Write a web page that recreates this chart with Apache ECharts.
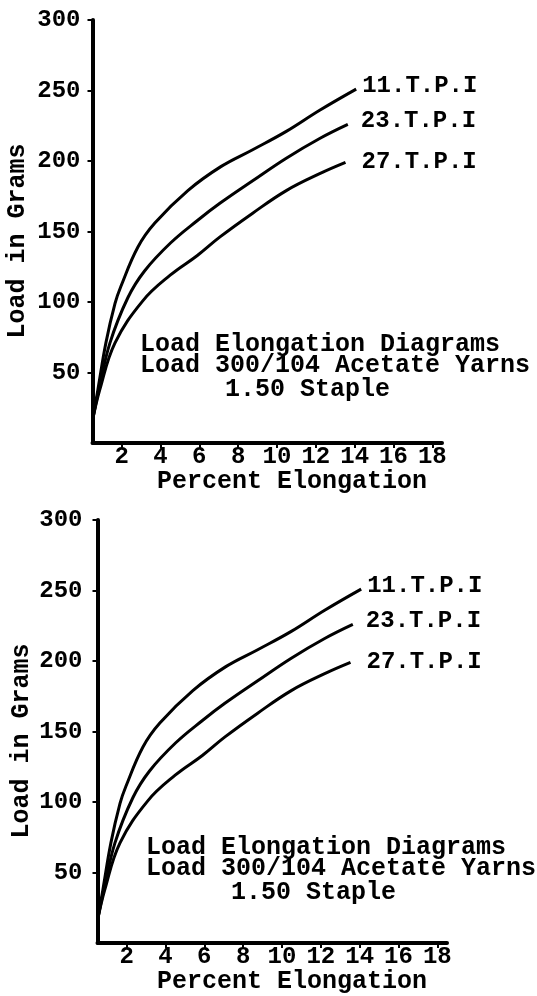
<!DOCTYPE html>
<html>
<head>
<meta charset="utf-8">
<script src="https://cdn.jsdelivr.net/npm/echarts@6/dist/echarts.min.js"></script>
<style>
  html, body { margin: 0; padding: 0; background: #fff; }
  #chart { width: 537px; height: 996px; }
</style>
</head>
<body>
<div id="chart"></div>
<script>
// Yarn twist levels (turns per inch)
const seriesNames = ['11.T.P.I', '23.T.P.I', '27.T.P.I'];

// Percent elongation / load (grams) readings for each twist level
const elong11 = [0.5, 0.78, 1.19, 1.66, 1.96, 2.84, 3.71, 5.41, 7.11, 8.75, 10.48, 12.2, 14.08];
const load11  = [16, 38, 71, 99, 111, 139, 156, 179, 196, 208, 221, 236, 251];

const elong23 = [0.5, 0.83, 1.4, 2.32, 3.18, 4.53, 5.92, 7.06, 8.75, 10.48, 12.2, 13.65];
const load23  = [16, 38, 71, 103, 122, 142, 158, 170, 186, 202, 216, 226];

const elong27 = [0.5, 0.88, 1.66, 3.1, 4.5, 5.9, 7.05, 8.75, 10.48, 12.2, 13.53];
const load27  = [16, 38, 71, 101, 119, 133, 146, 163, 179, 191, 199];

const xTicks = [2, 4, 6, 8, 10, 12, 14, 16, 18];
const yTicks = [50, 100, 150, 200, 250, 300];

const noteLines = ['Load Elongation Diagrams', 'Load 300/104 Acetate Yarns', '1.50 Staple'];
const xTitle = 'Percent Elongation';
const yTitle = 'Load in Grams';

const FONT = '"Liberation Mono", "Courier New", monospace';
const INK = '#000';

// End-label placement so the three names line up in a column
const labelGap = [6, 13, 16];
const labelShift = [[0, -3], [0, -3], [0, 0]];

function pairs(xs, ys) { return xs.map((x, i) => [x, ys[i]]); }
const curves = [pairs(elong11, load11), pairs(elong23, load23), pairs(elong27, load27)];

// Two identical panels stacked vertically
const panels = [
  { grid: { left: 92.5, right: 95, top: 20, bottom: 553 }, yMargin: 12, dx: 0, dy: 0 },
  { grid: { left: 97.5, right: 90, top: 520, bottom: 53 }, yMargin: 15, dx: 5, dy: 500 }
];

const grid = [], xAxis = [], yAxis = [], series = [], graphic = [];

panels.forEach((p, k) => {
  grid.push(p.grid);
  xAxis.push({
    type: 'value', gridIndex: k, min: 0.5, max: 18.5,
    axisLine: { show: true, onZero: false, lineStyle: { color: INK, width: 4 } },
    axisTick: { show: true, length: 5, lineStyle: { color: INK, width: 2 }, customValues: xTicks },
    axisLabel: { color: INK, fontFamily: FONT, fontWeight: 'bold', fontSize: 24, margin: 2, customValues: xTicks },
    splitLine: { show: false }
  });
  yAxis.push({
    type: 'value', gridIndex: k, min: 0, max: 300,
    axisLine: { show: true, lineStyle: { color: INK, width: 4 } },
    axisTick: { show: true, length: 5, lineStyle: { color: INK, width: 2 }, customValues: yTicks },
    axisLabel: { color: INK, fontFamily: FONT, fontWeight: 'bold', fontSize: 24, margin: p.yMargin, customValues: yTicks },
    splitLine: { show: false }
  });
  curves.forEach((data, i) => {
    series.push({
      type: 'line', name: seriesNames[i], xAxisIndex: k, yAxisIndex: k,
      data: data, smooth: 0.4, showSymbol: false, clip: false,
      lineStyle: { color: INK, width: 3 },
      endLabel: {
        show: true, formatter: seriesNames[i], color: INK,
        distance: labelGap[i], offset: labelShift[i],
        fontFamily: FONT, fontWeight: 'bold', fontSize: 24
      }
    });
  });

  // Caption block inside the plot
  const notePos = [[140, 345], [140, 366], [225, 390]];
  noteLines.forEach((t, i) => {
    graphic.push({
      type: 'text', x: notePos[i][0] + p.dx + (k ? 1 : 0), y: notePos[i][1] + p.dy + (k ? 3 : 0),
      style: { text: t, fill: INK, fontFamily: FONT, fontWeight: 'bold', fontSize: 25, align: 'left', verticalAlign: 'middle' }
    });
  });
  // Axis titles
  graphic.push({
    type: 'text', x: 292, y: 482 + p.dy,
    style: { text: xTitle, fill: INK, fontFamily: FONT, fontWeight: 'bold', fontSize: 25, align: 'center', verticalAlign: 'middle' }
  });
  graphic.push({
    type: 'text', x: 18 + p.dx - (k ? 1 : 0), y: 241 + p.dy, rotation: Math.PI / 2,
    style: { text: yTitle, fill: INK, fontFamily: FONT, fontWeight: 'bold', fontSize: 25, align: 'center', verticalAlign: 'middle' }
  });
});

const chart = echarts.init(document.getElementById('chart'), null, { renderer: 'canvas' });
chart.setOption({
  animation: false,
  backgroundColor: '#fff',
  grid, xAxis, yAxis, series, graphic
});
</script>
</body>
</html>
